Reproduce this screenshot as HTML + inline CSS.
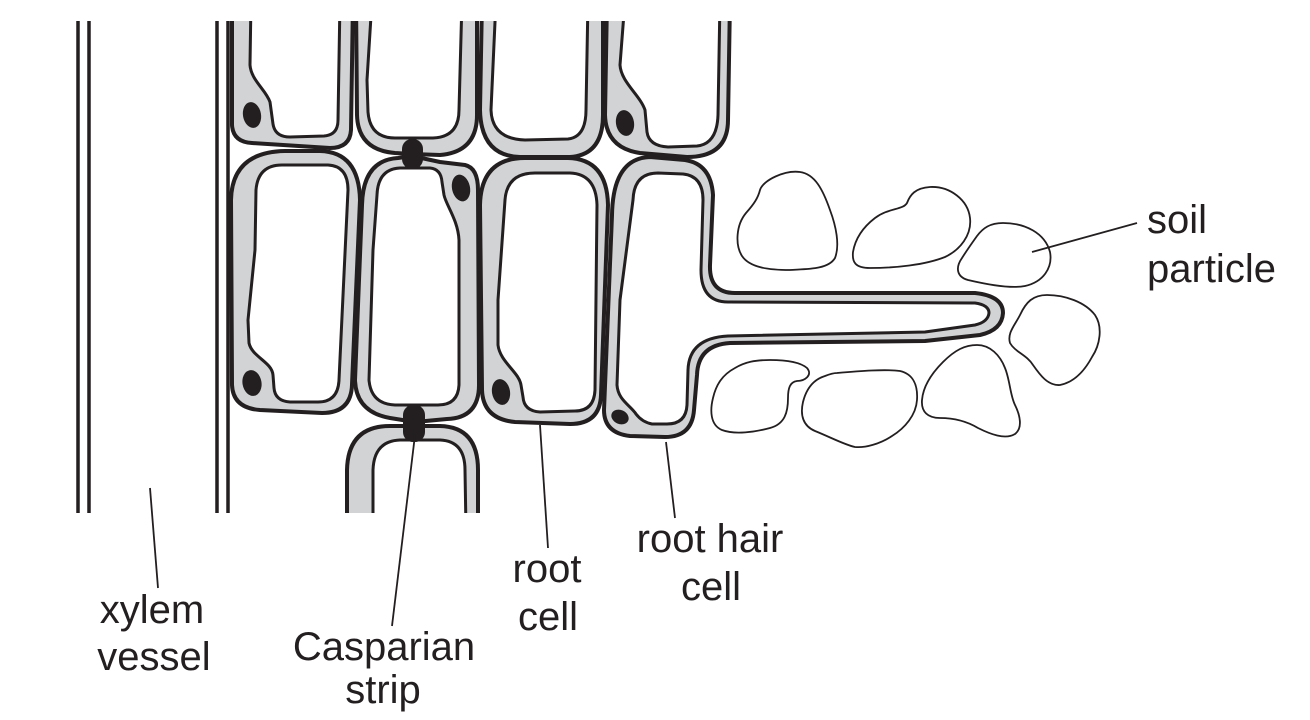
<!DOCTYPE html>
<html>
<head>
<meta charset="utf-8">
<style>
html,body{margin:0;padding:0;background:#fff;}
svg{display:block;}
text{font-family:"Liberation Sans",Arial,sans-serif;font-size:40px;fill:#231f20;}
</style>
</head>
<body>
<svg width="1310" height="720" viewBox="0 0 1310 720" xmlns="http://www.w3.org/2000/svg">
<defs>
<clipPath id="c"><rect x="0" y="21" width="1310" height="492"/></clipPath>
</defs>
<rect width="1310" height="720" fill="#fff"/>

<!-- xylem lines -->
<g stroke="#231f20" stroke-width="3.5">
<line x1="78" y1="21" x2="78" y2="513"/>
<line x1="89" y1="21" x2="89" y2="513"/>
<line x1="217" y1="21" x2="217" y2="513"/>
<line x1="228" y1="21" x2="228" y2="513"/>
</g>

<g clip-path="url(#c)" stroke="#231f20" stroke-linejoin="round">
<!-- middle row -->
<path d="M231,200 Q232,152 285,151 L320,151 Q359,152 360,200 L352,385 Q351,413 322,413 L260,410 Q233,408 232,385 Z" fill="#d1d3d4" stroke-width="4"/>
<path d="M256,190 Q258,165 282,165 L328,165 Q348,166 348,190 L339,380 Q338,402 318,402 L290,402 Q275,401 274,388 L273,375 C272,362 252,357 249,343 L248,320 L255,250 Z" fill="#fff" stroke-width="3"/>

<path d="M362,205 Q363,160 398,158 L412,156 L440,162 L465,165 Q478,168 478,190 L479,385 Q479,418 447,419 L415,422 L390,418 Q356,412 355,380 Z" fill="#d1d3d4" stroke-width="4"/>
<path d="M377,195 Q378,169 400,168 L430,168 Q441,169 442,182 L444,195 C446,205 458,220 459,240 L459,385 Q458,405 438,405 L395,405 Q371,404 369,380 L373,250 Z" fill="#fff" stroke-width="3"/>

<path d="M480,205 Q481,158 525,158 L568,158 Q607,159 608,205 L601,395 Q600,424 570,424 L515,422 Q483,419 482,390 Z" fill="#d1d3d4" stroke-width="4"/>
<path d="M505,200 Q507,173 535,173 L570,173 Q596,174 597,205 L595,390 Q594,411 575,411 L540,412 Q524,411 523,397 L521,385 C519,372 500,362 498,345 L498,300 Z" fill="#fff" stroke-width="3"/>

<!-- root hair cell -->
<path d="M612,215 Q613,158 650,157 L685,160 Q711,164 713,195 L710,265 Q709,293 735,293 L975,293 Q1003,296 1003,313 Q1002,330 980,335 L925,341 L730,343 Q698,345 697,375 L694,410 Q692,437 665,437 L630,436 Q604,433 604,410 Z" fill="#d1d3d4" stroke-width="4"/>
<path d="M633,200 Q634,173 658,173 L683,174 Q703,176 703,200 L701,270 Q701,302 728,302 L975,303 Q989,305 989,313 Q988,322 975,325 L925,332 L728,336 Q689,338 688,370 L687,405 Q686,424 667,424 L652,424 Q642,422 636,414 C630,405 618,400 617,385 L620,300 Z" fill="#fff" stroke-width="3"/>

<!-- bottom cell -->
<path d="M347,530 L347,470 Q348,426 390,426 L440,426 Q478,427 478,470 L478,530 Z" fill="#d1d3d4" stroke-width="4"/>
<path d="M373,530 L373,470 Q374,441 400,440 L440,440 Q465,441 465,470 L466,530 Z" fill="#fff" stroke-width="3"/>

<!-- top row -->
<path d="M232,0 L232,125 Q233,142 252,143 L330,148 Q350,148 351,130 L353,0 Z" fill="#d1d3d4" stroke-width="4"/>
<path d="M251,0 L250,65 C251,80 266,90 270,102 L273,124 Q275,137 290,137 L324,136 Q338,135 338,120 L340,0 Z" fill="#fff" stroke-width="3"/>

<path d="M356,0 L357,115 Q358,150 395,153 L412,154 L440,155 Q477,152 477,115 L477,0 Z" fill="#d1d3d4" stroke-width="4"/>
<path d="M372,0 L367,80 L368,112 Q370,138 395,138 L433,138 Q459,137 459,110 L462,0 Z" fill="#fff" stroke-width="3"/>

<path d="M482,0 L480,110 Q481,156 520,157 L570,157 Q603,155 603,115 L603,0 Z" fill="#d1d3d4" stroke-width="4"/>
<path d="M496,0 L491,110 Q492,139 525,140 L568,139 Q586,137 586,110 L588,0 Z" fill="#fff" stroke-width="3"/>

<path d="M607,0 L605,115 Q606,148 640,153 L687,157 Q728,157 728,120 L730,0 Z" fill="#d1d3d4" stroke-width="4"/>
<path d="M625,0 L620,65 C621,82 640,95 645,110 L647,132 Q649,146 668,147 L697,146 Q717,144 718,115 L720,0 Z" fill="#fff" stroke-width="3"/>
</g>

<!-- nuclei -->
<g fill="#231f20">
<ellipse cx="252" cy="115" rx="9" ry="13" transform="rotate(-10 252 115)"/>
<ellipse cx="625" cy="123" rx="9" ry="13" transform="rotate(-10 625 123)"/>
<ellipse cx="461" cy="188" rx="9" ry="13.5" transform="rotate(-12 461 188)"/>
<ellipse cx="252" cy="383" rx="9.5" ry="13" transform="rotate(-10 252 383)"/>
<ellipse cx="501" cy="392" rx="9" ry="13" transform="rotate(-10 501 392)"/>
<ellipse cx="620" cy="417" rx="9" ry="7" transform="rotate(25 620 417)"/>
<!-- casparian strips -->
<rect x="402" y="139" width="21" height="30" rx="10"/>
<rect x="403" y="405" width="22" height="37" rx="10"/>
</g>

<!-- soil particles -->
<g fill="#fff" stroke="#231f20" stroke-width="1.8">
<path d="M800,172 C815,174 823,190 830,210 C836,226 840,245 835,258 C828,270 805,269 790,270 C770,270 750,268 742,256 C735,245 736,225 746,213 C754,204 758,198 760,190 C763,180 785,170 800,172 Z"/>
<path d="M907,203 C910,195 915,188 930,187 C950,186 968,200 970,218 C972,235 960,250 945,257 C925,265 895,268 870,268 C855,268 852,262 853,252 C855,240 862,228 875,218 C888,208 903,210 907,203 Z"/>
<path d="M1003,223 C1025,223 1045,233 1050,252 C1053,268 1043,282 1025,286 C1010,289 985,284 968,280 C957,277 955,268 962,258 C967,250 972,243 977,236 C983,228 990,223 1003,223 Z"/>
<path d="M1047,295 C1065,295 1085,302 1095,315 C1103,327 1100,345 1092,357 C1085,370 1075,382 1060,385 C1048,386 1040,375 1033,365 C1027,355 1015,352 1010,343 C1007,333 1015,325 1020,315 C1026,302 1033,295 1047,295 Z"/>
<path d="M770,360 C785,360 800,362 807,368 C813,375 805,381 797,381 C790,382 788,388 788,398 C788,412 785,424 770,428 C755,432 735,435 722,430 C710,425 710,410 713,398 C716,385 722,375 735,368 C745,362 755,360 770,360 Z"/>
<path d="M837,373 C860,371 885,369 900,371 C913,374 918,385 917,400 C916,415 905,428 892,436 C880,444 865,448 855,447 C845,445 830,437 815,431 C803,426 800,415 803,402 C806,390 812,380 825,376 C830,374 833,373 837,373 Z"/>
<path d="M977,345 C990,345 1000,355 1005,368 C1010,380 1010,395 1015,405 C1020,415 1023,428 1015,434 C1005,440 990,434 978,428 C968,422 955,418 940,418 C928,418 921,412 922,400 C923,388 930,375 943,362 C955,350 965,345 977,345 Z"/>
</g>

<!-- leader lines -->
<g stroke="#231f20" stroke-width="1.8">
<line x1="150" y1="488" x2="158" y2="588"/>
<line x1="415" y1="435" x2="392" y2="626"/>
<line x1="540" y1="425" x2="548" y2="548"/>
<line x1="666" y1="442" x2="675" y2="518"/>
<line x1="1032" y1="252" x2="1137" y2="223"/>
</g>

<!-- labels -->
<text x="152" y="623" text-anchor="middle">xylem</text>
<text x="154" y="670" text-anchor="middle">vessel</text>
<text x="384" y="660" text-anchor="middle">Casparian</text>
<text x="383" y="703" text-anchor="middle">strip</text>
<text x="547" y="582" text-anchor="middle">root</text>
<text x="548" y="630" text-anchor="middle">cell</text>
<text x="710" y="552" text-anchor="middle">root hair</text>
<text x="711" y="600" text-anchor="middle">cell</text>
<text x="1147" y="233">soil</text>
<text x="1147" y="282">particle</text>
</svg>
</body>
</html>
